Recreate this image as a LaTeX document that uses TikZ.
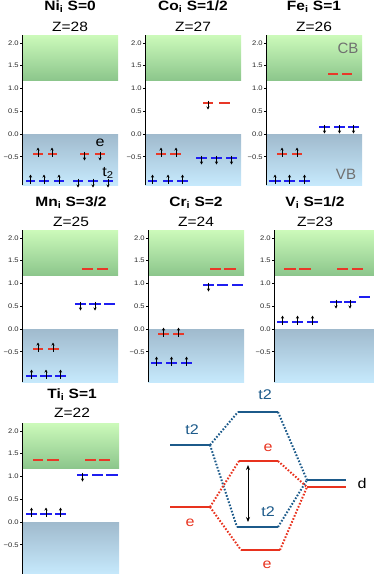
\documentclass[tikz,border=0pt]{standalone}
\usepackage{fontspec}
\setmainfont{Liberation Sans}
\newfontfamily\widefont[FakeStretch=1.15]{Liberation Sans}
\usetikzlibrary{arrows.meta}
\definecolor{lvred}{HTML}{E83828}
\definecolor{lvblue}{HTML}{1E1EF0}
\definecolor{cbtop}{HTML}{CCFABA}
\definecolor{cbbot}{HTML}{8CC68C}
\definecolor{vbtop}{HTML}{A0BACD}
\definecolor{vbbot}{HTML}{C6E9FC}
\definecolor{mored}{HTML}{E8321E}
\definecolor{moblue}{HTML}{1C5A8A}
\definecolor{bandlab}{HTML}{707070}

\newcommand{\drawpanel}[4]{% axis x, right x, zero y, bottom y
  \fill[top color=cbtop,bottom color=cbbot] (#1,{#3-99}) rectangle (#2,{#3-53.7});
  \fill[top color=vbtop,bottom color=vbbot] (#1,#3) rectangle (#2,#4);
  \draw[axisline] (#1,{#3-99}) -- (#1,#4);
  \foreach \v/\l in {2/2.0,1.5/1.5,1/1.0,0.5/0.5,0/0.0,-0.5/−0.5}
    \draw[axisline] (#1,{#3-(\v)*45.5}) -- ++(-2,0) node[ticklab]{\l};
}
\newcommand{\lvset}[3]{\foreach \a/\b in {#3} \draw[lvl,#1] (\a,#2) -- (\b,#2);}
\newcommand{\uparr}[2]{\foreach \c in {#2} \draw[spinarr] (\c,{#1+2.5}) -- (\c,{#1-6.5});}
\newcommand{\dnarr}[2]{\foreach \c in {#2} \draw[spinarr] (\c,{#1-2.5}) -- (\c,{#1+6.5});}

\begin{document}
\begin{tikzpicture}[x=1pt,y=-1pt,
  axisline/.style={black,line width=0.8pt},
  ticklab/.style={left,inner sep=1pt,font=\widefont\fontsize{6.6}{7}\selectfont,text=black!85},
  lvl/.style={line width=1.6pt},
  spinarr/.style={black,line width=0.6pt,-{Stealth[length=3pt,width=3pt]}},
  ptitle/.style={font=\widefont\bfseries\fontsize{13.5}{15}\selectfont,inner sep=0pt},
  zlab/.style={font=\widefont\fontsize{13.5}{15}\selectfont,inner sep=0pt},
  symlab/.style={font=\widefont\fontsize{14}{15}\selectfont,inner sep=0pt},
  bandtxt/.style={font=\fontsize{15}{16}\selectfont,text=bandlab,inner sep=0pt},
  molev/.style={line width=2.6pt},
  modot/.style={line width=2pt,dash pattern=on 1.6pt off 1.7pt},
  molab/.style={font=\widefont\fontsize{14}{15}\selectfont,inner sep=0pt}]
\useasboundingbox (0,0) rectangle (374,574);

% ---------------- Ni
\drawpanel{22}{118}{134}{185}
\node[ptitle] (tNi) at (70,7) {Ni\textsubscript{i} S=0};
\node[zlab] (zNi) at (70,27) {Z=28};
\lvset{lvred}{154}{33/43,48/57,80/89,95/105}
\lvset{lvblue}{181}{26/35,39/49,54/64,73/83,88/98,103/113}
\uparr{154}{38,52}\dnarr{154}{84.5,100}
\uparr{181}{30.5,44,59}\dnarr{181}{78,93,108}
\node[symlab] (eNi) at (100,143) {e};
\node[symlab] (tNi2) at (108,173) {t\textsubscript{2}};

% ---------------- Co
\drawpanel{145}{241}{134}{185}
\node[ptitle] (tCo) at (193,7) {Co\textsubscript{i} S=1/2};
\node[zlab] (zCo) at (193,27) {Z=27};
\lvset{lvred}{154}{156/166,170/181}
\lvset{lvblue}{181}{148/157,163/173,177/188}
\lvset{lvred}{103}{203/213,219/230}
\lvset{lvblue}{158}{196/207,211/222,226/237}
\uparr{154}{161,176}\uparr{181}{152.5,168,182.5}
\dnarr{103}{208}\dnarr{158}{201.5,216.5,231.5}

% ---------------- Fe
\drawpanel{266}{362}{134}{185}
\node[ptitle] (tFe) at (314,7) {Fe\textsubscript{i} S=1};
\node[zlab] (zFe) at (314,27) {Z=26};
\lvset{lvred}{154}{277/287,292/302}
\lvset{lvblue}{181}{269/281,284/295,299/310}
\lvset{lvred}{74}{328/338,342/352}
\lvset{lvblue}{127}{319/330,334/345,348/359}
\uparr{154}{282,297}\uparr{181}{275,289.5,304.5}
\dnarr{127}{324.5,339.5,353.5}
\node[bandtxt] (cb) at (348,48) {CB};
\node[bandtxt] (vb) at (346,174) {VB};

% ---------------- Mn
\drawpanel{22}{118}{329}{382}
\node[ptitle] (tMn) at (71,203) {Mn\textsubscript{i} S=3/2};
\node[zlab] (zMn) at (71,222) {Z=25};
\lvset{lvred}{349}{33/43,48/59}
\lvset{lvblue}{376}{26/37,40/52,55/66}
\lvset{lvred}{269}{82/93,97/108}
\lvset{lvblue}{304}{75/86,89/101,104/115}
\uparr{349}{38,53}\uparr{376}{31.5,46,60.5}
\dnarr{304}{80.5,95}

% ---------------- Cr
\drawpanel{148}{244}{329}{382}
\node[ptitle] (tCr) at (196,203) {Cr\textsubscript{i} S=2};
\node[zlab] (zCr) at (196,222) {Z=24};
\lvset{lvred}{334}{158/169,173/184}
\lvset{lvblue}{363}{151/162,166/177,181/192}
\lvset{lvred}{269}{210/221,224/236}
\lvset{lvblue}{285}{203/214,217/228,232/243}
\uparr{334}{163.5,178.5}\uparr{363}{156.5,171.5,186.5}
\dnarr{285}{208.5}

% ---------------- V
\drawpanel{274}{374}{329}{382}
\node[ptitle] (tV) at (315,203) {V\textsubscript{i} S=1/2};
\node[zlab] (zV) at (315,222) {Z=23};
\lvset{lvred}{269}{284/296,299/311,337/348,352/363}
\lvset{lvblue}{322}{277/288,292/303,307/318}
\lvset{lvblue}{302}{330/342,344/356}
\lvset{lvblue}{297}{359/370}
\uparr{322}{282.5,297.5,312.5}
\dnarr{302}{336,350}

% ---------------- Ti
\drawpanel{22}{119}{522}{574}
\node[ptitle] (tTi) at (72,395) {Ti\textsubscript{i} S=1};
\node[zlab] (zTi) at (72,413) {Z=22};
\lvset{lvred}{460}{33/43,47/59,85/96,99/110}
\lvset{lvblue}{514}{26/37,40/52,55/66}
\lvset{lvblue}{475}{77/88,92/103,106/118}
\uparr{514}{31.5,46,60.5}
\dnarr{475}{82.5}

% ---------------- MO scheme
\coordinate (lt2a) at (170,445); \coordinate (lt2b) at (210,445);
\coordinate (tt2a) at (238,412); \coordinate (tt2b) at (278,412);
\coordinate (bt2a) at (237,527); \coordinate (bt2b) at (278,527);
\coordinate (dba) at (307,480); \coordinate (dbb) at (346,480);
\coordinate (dra) at (307,487); \coordinate (drb) at (346,487);
\coordinate (lea) at (170,507); \coordinate (leb) at (210,507);
\coordinate (uea) at (239,461); \coordinate (ueb) at (278,461);
\coordinate (wea) at (241,550); \coordinate (web) at (280,550);
\coordinate (ga) at (248,465); \coordinate (gb) at (248,522);

\draw[modot,moblue] (lt2b) -- (tt2a);
\draw[modot,moblue] (lt2b) -- (bt2a);
\draw[modot,moblue] (tt2b) -- (dba);
\draw[modot,moblue] (bt2b) -- (dba);
\draw[modot,mored] (leb) -- (uea);
\draw[modot,mored] (leb) -- (wea);
\draw[modot,mored] (ueb) -- (dra);
\draw[modot,mored] (web) -- (dra);

\draw[molev,moblue] (lt2a) -- (lt2b);
\draw[molev,moblue] (tt2a) -- (tt2b);
\draw[molev,moblue] (bt2a) -- (bt2b);
\draw[molev,moblue] (dba) -- (dbb);
\draw[molev,mored] (dra) -- (drb);
\draw[molev,mored] (lea) -- (leb);
\draw[molev,mored] (uea) -- (ueb);
\draw[molev,mored] (wea) -- (web);
\draw[black,line width=0.9pt,{Stealth[length=5pt,width=4pt]}-{Stealth[length=5pt,width=4pt]}] (ga) -- (gb);

\node[molab,text=moblue] (lt2l) at (192,430) {t2};
\node[molab,text=moblue] (tt2l) at (265,395) {t2};
\node[molab,text=moblue] (bt2l) at (268,512) {t2};
\node[molab,text=mored] (lel) at (190,523) {e};
\node[molab,text=mored] (uel) at (268,448) {e};
\node[molab,text=mored] (wel) at (267,565) {e};
\node[molab] (dl) at (362,483) {d};
\end{tikzpicture}
\end{document}
